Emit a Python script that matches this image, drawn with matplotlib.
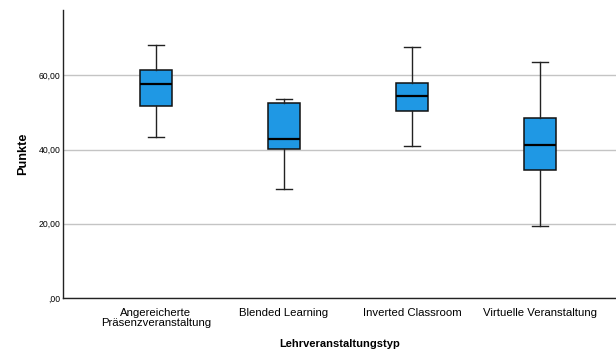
import matplotlib
matplotlib.use('Agg')
import matplotlib.pyplot as plt

plt.rcParams['font.family'] = ['Liberation Sans', 'DejaVu Sans']

# Lehrveranstaltungstypen und Kennwerte der Boxplots
categories = ['Angereicherte\nPräsenzveranstaltung', 'Blended Learning',
              'Inverted Classroom', 'Virtuelle Veranstaltung']
whisker_low = [43.5, 29.5, 41.0, 19.5]
q1 = [51.6, 40.1, 50.5, 34.5]
median = [57.6, 42.8, 54.5, 41.2]
q3 = [61.3, 52.5, 58.0, 48.4]
whisker_high = [68.1, 53.5, 67.5, 63.5]
yticks = [0, 20, 40, 60]
ytick_labels = [',00', '20,00', '40,00', '60,00']

stats = []
for i in range(len(categories)):
    stats.append({'whislo': whisker_low[i], 'q1': q1[i], 'med': median[i],
                  'q3': q3[i], 'whishi': whisker_high[i], 'fliers': []})

fig = plt.figure(figsize=(6.16, 3.56), dpi=100)
ax = fig.add_axes([63 / 616, 58 / 356, 553 / 616, 288 / 356])

ax.bxp(stats, positions=range(len(categories)), widths=0.25,
       patch_artist=True, showfliers=False,
       boxprops=dict(facecolor='#1f98e4', edgecolor='#111111', linewidth=1.1),
       medianprops=dict(color='#000000', linewidth=1.6),
       whiskerprops=dict(color='#222222', linewidth=1.0),
       capprops=dict(color='#222222', linewidth=1.0),
       capwidths=0.12, zorder=3)

ax.set_xlim(-0.727, 3.594)
ax.set_ylim(0, 77.6)
ax.set_yticks(yticks)
ax.set_yticklabels(ytick_labels, fontsize=6.2)
ax.set_xticks(range(len(categories)))
ax.set_xticklabels(categories, fontsize=8.2, linespacing=0.9)
ax.tick_params(axis='y', length=0, pad=2)
ax.tick_params(axis='x', length=0, pad=7.5)

ax.yaxis.grid(True, color='#c4c4c4', linewidth=1.0, zorder=0)
ax.set_axisbelow(True)
for s in ['top', 'right']:
    ax.spines[s].set_visible(False)
for s in ['left', 'bottom']:
    ax.spines[s].set_color('#222222')
    ax.spines[s].set_linewidth(1.0)

ax.set_xlabel('Lehrveranstaltungstyp', fontsize=8.0, fontweight='bold', labelpad=8)
ax.set_ylabel('Punkte', fontsize=9.2, fontweight='bold', labelpad=6.5)

fig.savefig('out.png', dpi=100)
